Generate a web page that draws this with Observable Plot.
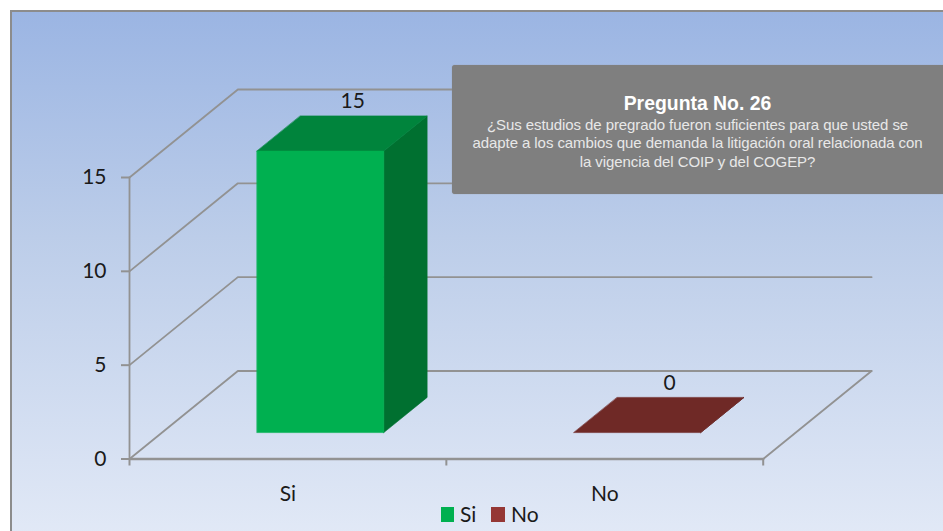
<!DOCTYPE html>
<html lang="es">
<head>
<meta charset="utf-8">
<script src="https://cdn.jsdelivr.net/npm/d3@7"></script>
<script src="https://cdn.jsdelivr.net/npm/@observablehq/plot@0.6"></script>
<style>
html,body{margin:0;padding:0;background:#fff;overflow:hidden}
#page{position:relative;width:943px;height:531px;overflow:hidden;font-family:Lato,Carlito,sans-serif}
#bg{position:absolute;left:9.5px;top:10px;width:950px;height:540px;box-sizing:border-box;border:2.6px solid #8c8c8c;
 background:linear-gradient(#9bb5e3 0%,#bccde9 42%,#e3eaf7 100%)}
#chart{position:absolute;left:0;top:0}
#chart svg{background:transparent;display:block}
#box{position:absolute;left:452px;top:65px;width:500px;height:128.5px;background:#7f7f7f;border-radius:3px;box-shadow:0 0 1px #8a8a8a}
.t{position:absolute;left:452px;width:491px;text-align:center;font-family:"Liberation Sans",Arial,sans-serif;white-space:nowrap}
#legend span{position:absolute;color:#1a1a1a;font-size:21px;line-height:24px;top:502px}
#legend i{position:absolute;top:507px;height:15px;display:block}
</style>
</head>
<body>
<div id="page">
  <div id="bg"></div>
  <div id="chart"></div>
  <div id="box"></div>
  <div id="title"></div>
  <div id="legend"></div>
</div>
<script>
// --- data ---
const categories = ["Si", "No"];
const values = [15, 0];
const yTicks = [0, 5, 10, 15];
const frontColors = ["#00b050", "#953735"];
const topColors = ["#00843c", "#6f2926"];
const sideColors = ["#007030", "#5c2220"];
const titleText = "Pregunta No. 26";
const questionLines = [
  "¿Sus estudios de pregrado fueron suficientes para que usted se",
  "adapte a los cambios que demanda la litigación oral relacionada con",
  "la vigencia del COIP y del COGEP?"
];

// --- fake-3D projection, in data units ---
const depthX = 0.342;   // category widths per full depth
const depthY = 4.69;    // value units per full depth
const barWidth = 0.4, depthNear = 0.3, depthFar = 0.7;
const project = (c, v, d) => ({x: c + d * depthX, y: v + d * depthY});
const grey = "#929292";
const n = categories.length;

const face = (pts, fill) => Plot.line(pts, {x: "x", y: "y", fill, stroke: fill, strokeWidth: 0.6, curve: "linear-closed"});
const gridLine = (pts, w = 1.8) => Plot.line(pts, {x: "x", y: "y", stroke: grey, strokeWidth: w});

const marks = [];
// walls and floor
for (const v of yTicks) {
  marks.push(gridLine([project(0, v, 0), project(0, v, 1), project(n, v, 1)]));
}
marks.push(gridLine([project(n, 0, 0), project(n, 0, 1)]));
marks.push(gridLine([project(0, 0, 0), project(0, d3.max(yTicks), 0)], 1.8));
marks.push(gridLine([project(0, 0, 0), project(n, 0, 0)], 2.4));

// axes
marks.push(Plot.axisY(yTicks, {
  anchor: "left", label: null, tickSize: 8, tickPadding: 15, stroke: grey, strokeWidth: 2,
  fill: "#1a1a1a", fontSize: 21, fontFamily: "Lato"
}));
marks.push(Plot.axisX(d3.range(n + 1), {
  anchor: "bottom", label: null, tickSize: 7, tickFormat: () => "", stroke: grey, strokeWidth: 2
}));

// bars
categories.forEach((cat, i) => {
  const c0 = i + (1 - barWidth) / 2, c1 = c0 + barWidth, v = values[i];
  marks.push(face([project(c1, 0, depthNear), project(c1, 0, depthFar), project(c1, v, depthFar), project(c1, v, depthNear)], sideColors[i]));
  marks.push(face([project(c0, v, depthNear), project(c1, v, depthNear), project(c1, v, depthFar), project(c0, v, depthFar)], topColors[i]));
  if (v > 0) marks.push(face([project(c0, 0, depthNear), project(c1, 0, depthNear), project(c1, v, depthNear), project(c0, v, depthNear)], frontColors[i]));
});

// value labels and category labels
const labelRows = categories.map((cat, i) => ({cat, i, v: values[i], ...project(i + 0.5, values[i], depthFar)}));
marks.push(Plot.text(labelRows, {x: "x", y: "y", text: d => String(d.v), dx: -11, dy: -14.5, fontSize: 21, fontFamily: "Lato", fill: "#1a1a1a"}));
marks.push(Plot.text(labelRows, {x: d => d.i + 0.5, y: () => 0, text: "cat", dy: 35.5, fontSize: 21, fontFamily: "Lato", fill: "#1a1a1a"}));

const chart = Plot.plot({
  width: 943, height: 531,
  marginTop: 177, marginRight: 180.3, marginBottom: 72.5, marginLeft: 129,
  x: {domain: [0, n], axis: null},
  y: {domain: [0, 15], axis: null},
  style: {background: "transparent", overflow: "visible"},
  marks
});
document.getElementById("chart").appendChild(chart);

// question box text
const title = document.getElementById("title");
const addLine = (txt, top, css) => {
  const el = document.createElement("div");
  el.className = "t"; el.textContent = txt; el.style.cssText = `top:${top}px;${css}`;
  title.appendChild(el);
};
addLine(titleText, 92, "font-size:19.4px;line-height:22px;font-weight:700;color:#fff");
questionLines.forEach((l, i) => addLine(l, [116, 134, 153][i], "font-size:15px;letter-spacing:-0.08px;line-height:18px;color:#e8e8e8"));

// legend
const legend = document.getElementById("legend");
const swatchX = [441, 490.5], labelX = [460, 511];
categories.forEach((cat, i) => {
  const sw = document.createElement("i");
  sw.style.left = swatchX[i] + "px"; sw.style.width = (i ? 14.5 : 13) + "px"; sw.style.background = frontColors[i];
  const sp = document.createElement("span");
  sp.style.left = labelX[i] + "px"; sp.textContent = cat;
  legend.append(sw, sp);
});
</script>
</body>
</html>
